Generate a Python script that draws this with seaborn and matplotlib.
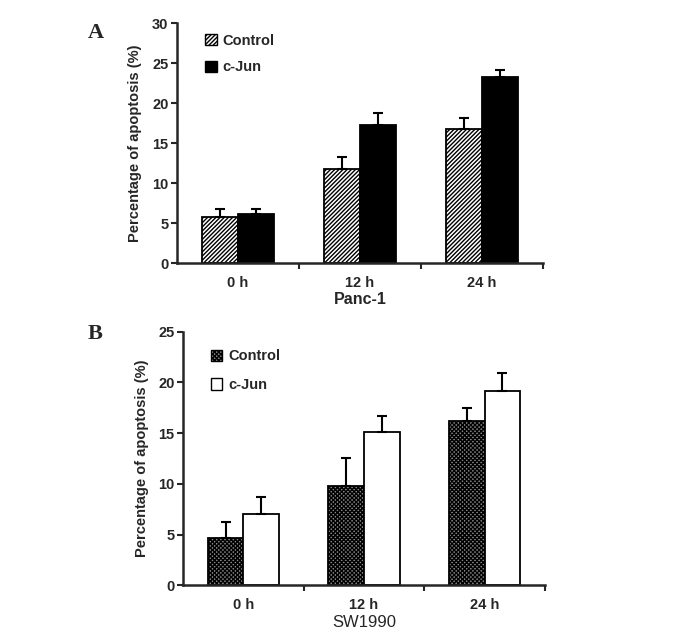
import matplotlib
matplotlib.use('Agg')
import matplotlib.pyplot as plt
import seaborn as sns
import pandas as pd
import numpy as np
from matplotlib.patches import Patch

sns.set_style('ticks')
plt.rcParams['font.family'] = ['Liberation Sans', 'DejaVu Sans']
plt.rcParams['hatch.linewidth'] = 1.0

# Datos
tiempos = ['0 h', '12 h', '24 h']
grupos = ['Control', 'c-Jun']

panc_control = [5.8, 11.8, 16.7]
panc_control_err = [1.0, 1.4, 1.4]
panc_cjun = [6.1, 17.2, 23.2]
panc_cjun_err = [0.7, 1.5, 0.9]

sw_control = [4.7, 9.8, 16.2]
sw_control_err = [1.6, 2.8, 1.3]
sw_cjun = [7.0, 15.1, 19.2]
sw_cjun_err = [1.7, 1.6, 1.7]

# estilos de cada grupo por panel
estilo_a = [dict(facecolor='white', hatch='////////'), dict(facecolor='black', hatch=None)]
estilo_b = [dict(facecolor='#8a8a8a', hatch='xxxxxxxx'), dict(facecolor='white', hatch=None)]


def panel(ax, control, control_err, cjun, cjun_err, estilos, ymax, xlabel, xlabel_kw, leg_anchor, leg_sp):
    df = pd.DataFrame({
        'tiempo': tiempos * 2,
        'grupo': [grupos[0]] * 3 + [grupos[1]] * 3,
        'valor': control + cjun,
    })
    sns.barplot(data=df, x='tiempo', y='valor', hue='grupo', order=tiempos, hue_order=grupos,
                errorbar=None, width=0.59, ax=ax, legend=False)
    errores = [control_err, cjun_err]
    valores = [control, cjun]
    for cont, est, err, val in zip(ax.containers, estilos, errores, valores):
        xs = []
        for p in cont.patches:
            p.set_facecolor(est['facecolor'])
            p.set_edgecolor('black')
            p.set_linewidth(1.3)
            if est['hatch']:
                p.set_hatch(est['hatch'])
            xs.append(p.get_x() + p.get_width() / 2)
        ax.errorbar(xs, val, yerr=[np.zeros(len(err)), err], fmt='none', ecolor='black',
                    elinewidth=1.5, capsize=3.5, capthick=1.5, zorder=1)
    ax.set_xlim(-0.5, 2.5)
    ax.set_ylim(0, ymax)
    ax.set_yticks(np.arange(0, ymax + 1, 5))
    ax.set_xticks([0, 1, 2])
    ax.set_xticklabels(tiempos)
    ax.set_xticks([0.5, 1.5, 2.5], minor=True)
    ax.tick_params(axis='x', which='major', length=0, pad=9, labelsize=10.5)
    ax.tick_params(axis='x', which='minor', length=4, width=1.5)
    ax.tick_params(axis='y', length=4, width=1.5, pad=2, labelsize=10.5)
    for lab in ax.get_xticklabels() + ax.get_yticklabels():
        lab.set_fontweight('bold')
    ax.set_ylabel('Percentage of apoptosis (%)', fontsize=10.5, fontweight='bold', labelpad=7)
    ax.set_xlabel(xlabel, labelpad=2, **xlabel_kw)
    for s in ['top', 'right']:
        ax.spines[s].set_visible(False)
    for s in ['left', 'bottom']:
        ax.spines[s].set_linewidth(1.8)
    handles = [Patch(facecolor=e['facecolor'], edgecolor='black', hatch=e['hatch'], linewidth=1.0)
               for e in estilos]
    ax.legend(handles, grupos, loc='upper left', bbox_to_anchor=leg_anchor, frameon=False,
              borderpad=0, borderaxespad=0, handlelength=0.8, handleheight=0.8,
              handletextpad=0.4, labelspacing=leg_sp, prop={'weight': 'bold', 'size': 10.5})


fig = plt.figure(figsize=(6.88, 6.34), dpi=100)
ax_a = fig.add_axes([0.257, 0.585, 0.532, 0.3787])
ax_b = fig.add_axes([0.266, 0.0765, 0.526, 0.4003])

panel(ax_a, panc_control, panc_control_err, panc_cjun, panc_cjun_err, estilo_a, 30,
      'Panc-1', dict(fontsize=11.5, fontweight='bold'), (0.077, 0.955), 0.85)
panel(ax_b, sw_control, sw_control_err, sw_cjun, sw_cjun_err, estilo_b, 25,
      'SW1990', dict(fontsize=12), (0.076, 0.93), 1.0)

fig.text(0.127, 0.94, 'A', fontsize=16, fontweight='bold', family='Liberation Serif')
fig.text(0.127, 0.465, 'B', fontsize=16, fontweight='bold', family='Liberation Serif')

fig.savefig('out.png', dpi=100)
